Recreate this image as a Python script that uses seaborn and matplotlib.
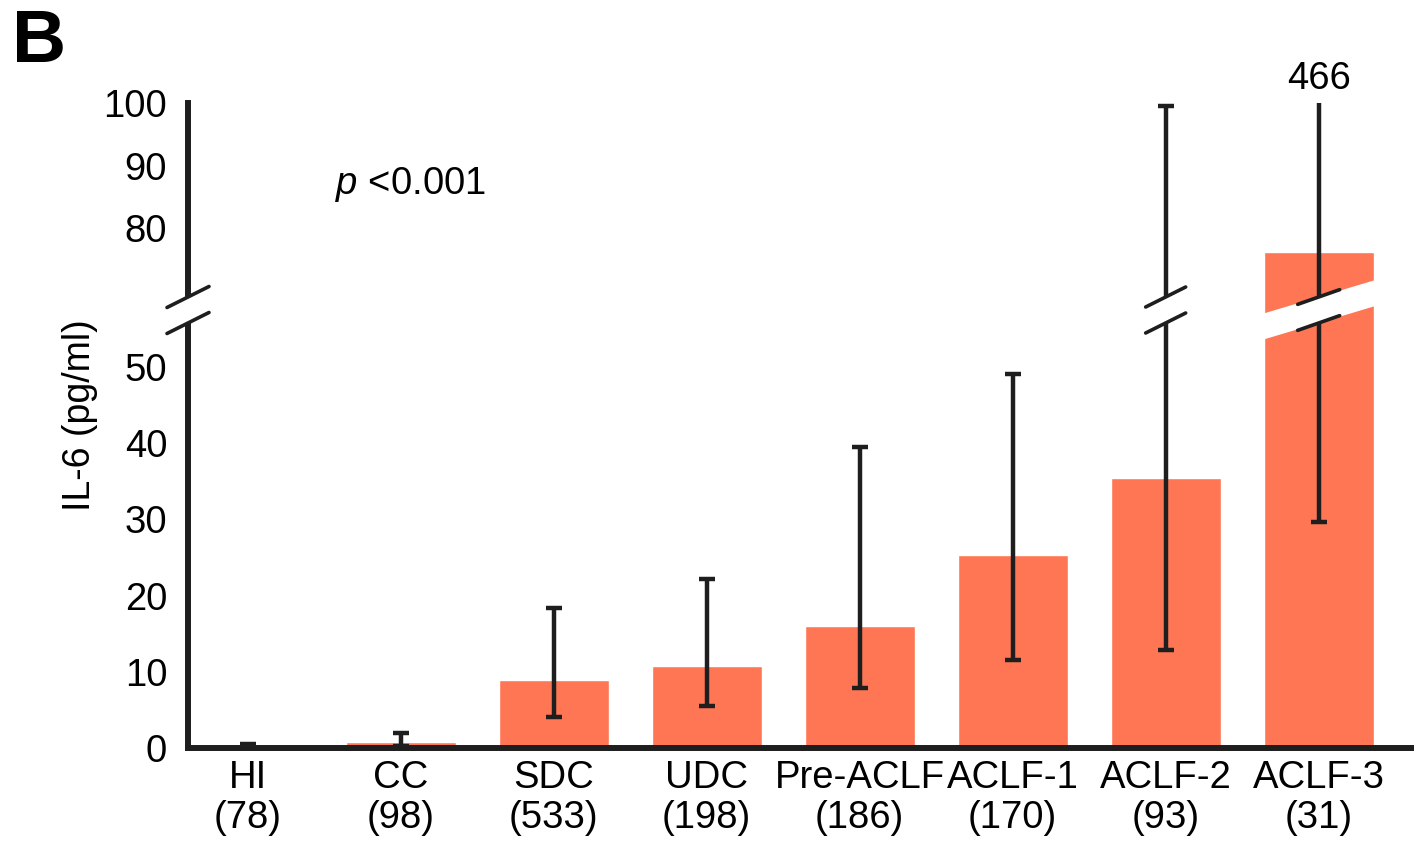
import numpy as np
import matplotlib
matplotlib.use("Agg")
import matplotlib.pyplot as plt
from matplotlib.patches import Polygon
from matplotlib.lines import Line2D
from matplotlib.transforms import IdentityTransform
import seaborn as sns

# data
groups = ["HI", "CC", "SDC", "UDC", "Pre-ACLF", "ACLF-1", "ACLF-2", "ACLF-3"]
n_pat = [78, 98, 533, 198, 186, 170, 93, 31]
median = [0.0, 0.8, 8.9, 10.8, 16.0, 25.3, 35.4, 76.2]
q_low = [0.0, 0.3, 4.1, 5.5, 7.9, 11.5, 12.9, 29.7]
q_high = [0.5, 2.0, 18.4, 22.2, 39.5, 49.1, 99.5, 466.0]

bar_col = "#FF7654"
ink = "#1e1e1e"

sns.set_style("white")
plt.rcParams["font.family"] = ["Liberation Sans", "DejaVu Sans"]
plt.rcParams["mathtext.fontset"] = "custom"
plt.rcParams["mathtext.it"] = "Liberation Sans:italic"
plt.rcParams["mathtext.rm"] = "Liberation Sans"
plt.rcParams["text.color"] = "black"

W, H = 1414, 843
fig = plt.figure(figsize=(W / 100, H / 100), dpi=100)
# axes placed in pixel terms
def px_box(left, top, right, bottom):
    return [left / W, 1 - bottom / H, (right - left) / W, (bottom - top) / H]

ax_lo = fig.add_axes(px_box(188, 310, 1412, 748))
ax_hi = fig.add_axes(px_box(188, 103, 1412, 310))

labels = [f"{g}\n({n})" for g, n in zip(groups, n_pat)]
yerr = [np.array(median) - np.array(q_low), np.array(q_high) - np.array(median)]

for ax in (ax_lo, ax_hi):
    sns.barplot(x=labels, y=median, color=bar_col, saturation=1, width=0.72,
                errorbar=None, ax=ax)
    ax.errorbar(range(len(groups)), median, yerr=yerr, fmt="none", ecolor=ink,
                elinewidth=3.2, capsize=6, capthick=3.2)
    ax.set_xlim(-0.39, 7.61)
    for s in ("top", "right"):
        ax.spines[s].set_visible(False)
    ax.spines["left"].set_linewidth(4.3)
    ax.spines["left"].set_color(ink)
    ax.tick_params(axis="both", length=0, labelsize=27.5, colors="black")
    ax.set_xlabel("")
    ax.set_ylabel("")

ax_lo.set_ylim(0, 57.48)
ax_lo.set_yticks([0, 10, 20, 30, 40, 50])
ax_lo.spines["bottom"].set_linewidth(4.3)
ax_lo.spines["bottom"].set_color(ink)
ax_lo.tick_params(axis="y", pad=15)
ax_lo.tick_params(axis="x", pad=9)
for t in ax_lo.get_xticklabels():
    t.set_linespacing(1.12)

ax_hi.set_ylim(66.88, 100)
ax_hi.set_yticks([80, 90, 100])
ax_hi.spines["bottom"].set_visible(False)
ax_hi.tick_params(axis="y", pad=15)
ax_hi.set_xticks([])
ax_hi.spines["left"].set_bounds(66.88, 100)

ax_hi.text(7, 1.03, "466", transform=ax_hi.get_xaxis_transform(),
           ha="center", va="bottom", fontsize=27.5, color="black")
ax_hi.text(0.57, 87, "$p$ <0.001", ha="left", va="center", fontsize=27.5,
           color="black")

fig.text(80 / W, 1 - 415 / H, "IL-6 (pg/ml)", rotation=90, ha="center",
         va="center", fontsize=27, color="black")
fig.text(12 / W, 1 - 8 / H, "B", fontsize=54, weight="bold", ha="left",
         va="top", color="black")

# axis break: white band plus two slanted marks
yj = H - 310
def axis_break(xc, half_band, slope, mark_len, mark_slope, thick=26):
    x0, x1 = xc - half_band, xc + half_band
    yc0 = yj + slope * (x0 - xc)
    yc1 = yj + slope * (x1 - xc)
    band = Polygon([(x0, yc0 - thick / 2), (x1, yc1 - thick / 2),
                    (x1, yc1 + thick / 2), (x0, yc0 + thick / 2)],
                   closed=True, facecolor="white", edgecolor="none",
                   transform=IdentityTransform(), zorder=5)
    fig.add_artist(band)
    for off in (-thick / 2, thick / 2):
        xs = [xc - mark_len / 2, xc + mark_len / 2]
        ys = [yj + off - mark_slope * mark_len / 2, yj + off + mark_slope * mark_len / 2]
        fig.add_artist(Line2D(xs, ys, color=ink, lw=2.6,
                              transform=IdentityTransform(), zorder=6))

def bar_x(i):
    return ax_lo.transData.transform((i, 0))[0]

spine_x = ax_lo.transAxes.transform((0, 0))[0]
axis_break(spine_x, 18, 0.5, 42, 0.5)
axis_break(bar_x(6), 16, 0.5, 40, 0.5)
half_bar = (bar_x(0.36) - bar_x(0))
axis_break(bar_x(7), half_bar + 1, 0.3, 42, 0.35)

fig.savefig("out.png", dpi=100)
